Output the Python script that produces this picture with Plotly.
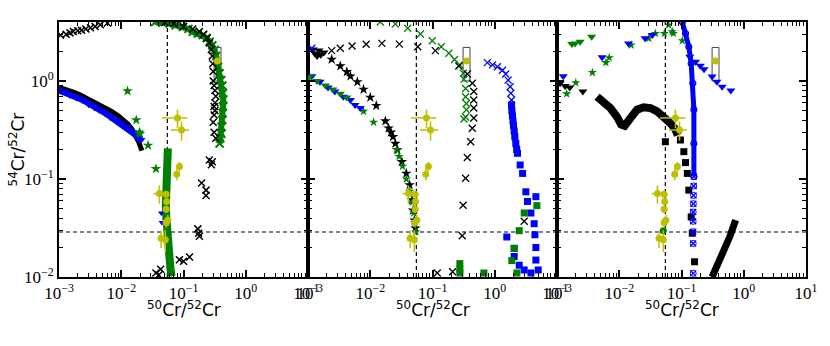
import plotly.graph_objects as go

# ---- axis ticks ----
x_ticks = [1e-3, 1e-2, 1e-1, 1, 10]
x_ticktext = ["10<sup>−3</sup>", "10<sup>−2</sup>", "10<sup>−1</sup>", "10<sup>0</sup>", "10<sup>1</sup>"]
y_ticks = [1e-2, 1e-1, 1]
y_ticktext = ["10<sup>−2</sup>", "10<sup>−1</sup>", "10<sup>0</sup>"]

# ---- reference lines / box (same in every panel) ----
ref_x = 0.055
ref_y = 0.0288
box_x = [0.31, 0.40]
box_y = [1.0, 2.2]

# ---- measured grains (yellow, same in every panel) ----
obs_x = [0.08, 0.093, 0.086, 0.078, 0.041, 0.0526, 0.0536, 0.0526, 0.056, 0.0526, 0.0436, 0.051, 0.35]
obs_y = [0.42, 0.316, 0.134, 0.112, 0.071, 0.07, 0.059, 0.049, 0.038, 0.036, 0.0248, 0.024, 1.6]
obs_xerr = [0.035, 0.03, 0.006, 0.008, 0.008, 0.003, 0.003, 0.003, 0.004, 0.004, 0.005, 0.003, 0]
obs_yerr = [0.09, 0.07, 0.015, 0.015, 0.015, 0.005, 0.005, 0.004, 0.005, 0.004, 0.005, 0.006, 0]

# ---- panel 1 ----
p1_kx_x = [0.00106, 0.0013, 0.0015, 0.0017, 0.002, 0.0023, 0.0027, 0.0032, 0.0038, 0.0046, 0.006,
           0.05, 0.07, 0.1, 0.14, 0.18, 0.21, 0.24, 0.26, 0.28, 0.29, 0.295, 0.3, 0.3, 0.31, 0.32,
           0.33, 0.32, 0.31, 0.32, 0.31, 0.3, 0.31, 0.33, 0.29, 0.26, 0.28, 0.195, 0.23, 0.23, 0.17,
           0.18, 0.175, 0.086, 0.1, 0.125, 0.036, 0.043, 0.04]
p1_kx_y = [2.94, 3.0, 3.1, 3.2, 3.25, 3.3, 3.4, 3.5, 3.6, 3.75, 3.9,
           3.95, 3.85, 3.6, 3.4, 3.2, 3.0, 2.75, 2.45, 2.1, 1.8, 1.5, 1.25, 1.0, 0.9, 0.8,
           0.7, 0.6, 0.55, 0.5, 0.45, 0.38, 0.3, 0.26, 0.15, 0.156, 0.14, 0.091, 0.077, 0.068, 0.031,
           0.026, 0.028, 0.015, 0.0145, 0.016, 0.011, 0.012, 0.0105]
p1_gx_x = [0.035, 0.046, 0.06, 0.075, 0.0975, 0.12, 0.141, 0.17, 0.205, 0.235, 0.263, 0.29, 0.316,
           0.335, 0.358, 0.38, 0.405, 0.42, 0.43, 0.435, 0.43, 0.425, 0.42, 0.41, 0.405, 0.39, 0.38]
p1_gx_y = [4.0, 3.95, 3.85, 3.7, 3.58, 3.4, 3.18, 3.05, 2.94, 2.75, 2.52, 2.3, 2.07,
           1.8, 1.4, 1.2, 1.02, 0.9, 0.75, 0.65, 0.55, 0.47, 0.40, 0.34, 0.29, 0.26, 0.23]
p1_gband_x = [0.056, 0.055, 0.053, 0.052, 0.052, 0.052, 0.053, 0.054, 0.056, 0.058, 0.06, 0.062, 0.064]
p1_gband_y = [0.205, 0.16, 0.12, 0.09, 0.07, 0.052, 0.04, 0.03, 0.024, 0.019, 0.015, 0.012, 0.0102]
p1_gs_x = [0.0126, 0.0174, 0.0196, 0.02, 0.027, 0.036]
p1_gs_y = [0.79, 0.4, 0.3, 0.29, 0.22, 0.127]
p1_bt_x = [0.001, 0.00113, 0.0015, 0.0019, 0.00238, 0.003, 0.0037, 0.0044, 0.0055, 0.0067, 0.0082,
           0.01, 0.012, 0.0135, 0.0152, 0.017, 0.019, 0.0207]
p1_bt_y = [0.8, 0.78, 0.72, 0.68, 0.64, 0.58, 0.54, 0.51, 0.47, 0.43, 0.40,
           0.37, 0.34, 0.32, 0.30, 0.28, 0.26, 0.25]
p1_bsmall_x = [0.044, 0.045]
p1_bsmall_y = [0.045, 0.036]
p1_kt_x = [0.001, 0.0013, 0.0017, 0.0022, 0.003, 0.004, 0.005, 0.007, 0.009, 0.011, 0.013, 0.015,
           0.017, 0.019, 0.0205, 0.021, 0.0215]
p1_kt_y = [0.86, 0.82, 0.77, 0.72, 0.65, 0.6, 0.55, 0.49, 0.44, 0.4, 0.36, 0.32,
           0.28, 0.24, 0.21, 0.2, 0.195]

# ---- panel 2 ----
p2_kx_x = [0.0024, 0.0033, 0.0051, 0.0086, 0.0154, 0.0293, 0.058, 0.111, 0.265, 0.363, 0.436, 0.46,
           0.46, 0.46, 0.46, 0.436, 0.41, 0.363, 0.34, 0.31, 0.30, 0.21, 0.119, 2.97]
p2_kx_y = [2.04, 2.16, 2.28, 2.37, 2.42, 2.38, 2.24, 2.04, 1.42, 1.18, 0.95, 0.78,
           0.64, 0.53, 0.42, 0.33, 0.24, 0.166, 0.102, 0.054, 0.0264, 0.0113, 0.011, 0.037]
p2_kcl_x = [0.0012, 0.0013, 0.0014, 0.0016, 0.0018, 0.0015]
p2_kcl_y = [2.1, 1.9, 1.8, 1.85, 1.95, 2.05]
p2_ks_x = [0.0024, 0.0033, 0.0042, 0.0048, 0.0062, 0.0078, 0.01, 0.0125, 0.0175, 0.0197, 0.0215,
           0.0232, 0.0253, 0.0273, 0.0322, 0.0379, 0.0428, 0.0468, 0.0487, 0.0513, 0.053]
p2_ks_y = [1.66, 1.42, 1.24, 1.12, 0.98, 0.82, 0.68, 0.56, 0.39, 0.33, 0.30,
           0.27, 0.23, 0.198, 0.15, 0.114, 0.087, 0.061, 0.048, 0.038, 0.0315]
p2_gs_x = [0.0078, 0.0113, 0.0265, 0.029, 0.033, 0.038, 0.043, 0.047, 0.05, 0.052, 0.054]
p2_gs_y = [0.49, 0.38, 0.2, 0.17, 0.135, 0.1, 0.075, 0.058, 0.045, 0.036, 0.029]
p2_gx_x = [0.0145, 0.0253, 0.040, 0.064, 0.099, 0.138, 0.183, 0.226, 0.275, 0.313, 0.32, 0.34,
           0.34, 0.35, 0.35, 0.34, 0.32]
p2_gx_y = [4.0, 3.82, 3.45, 3.02, 2.58, 2.24, 1.92, 1.66, 1.46, 1.2, 1.04, 0.84,
           0.69, 0.59, 0.51, 0.43, 0.41]
p2_bx_x = [0.00115, 0.76, 0.92, 1.10, 1.33, 1.50, 1.64, 1.77, 1.81, 1.86]
p2_bx_y = [2.16, 1.54, 1.46, 1.40, 1.29, 1.18, 1.02, 0.875, 0.75, 0.64]
p2_bsq_x = [1.86, 1.88, 1.92, 1.96, 2.0, 2.05, 2.1, 2.18, 2.25, 2.32, 2.56, 2.80, 3.16, 3.36, 4.58,
            3.81, 4.3, 1.56, 4.42, 2.05, 4.58, 2.05, 4.58, 2.47, 2.97, 3.81, 4.99]
p2_bsq_y = [0.57, 0.5, 0.44, 0.39, 0.35, 0.31, 0.27, 0.23, 0.2, 0.183, 0.139, 0.114, 0.074, 0.059, 0.066,
            0.045, 0.035, 0.0256, 0.027, 0.0196, 0.020, 0.0162, 0.0149, 0.0132, 0.0118, 0.011, 0.0118]
p2_gsq_x = [4.75, 2.97, 2.47, 2.05, 1.88, 2.27, 0.275, 0.275, 0.275, 0.67]
p2_gsq_y = [0.0535, 0.045, 0.0297, 0.0196, 0.0147, 0.011, 0.0137, 0.012, 0.011, 0.011]
p2_bt_x = [0.00115, 0.00156, 0.0021, 0.0027, 0.0037, 0.0048, 0.0057, 0.0069]
p2_bt_y = [1.12, 0.98, 0.86, 0.78, 0.69, 0.64, 0.57, 0.53]
p2_gt_x = [0.00105, 0.0014, 0.0019, 0.0025, 0.0033, 0.0042]
p2_gt_y = [1.1, 1.0, 0.9, 0.82, 0.74, 0.68]

# ---- panel 3 ----
p3_gt_x = [0.00173, 0.00195, 0.00235, 0.0036]
p3_gt_y = [2.39, 2.42, 2.52, 2.83]
p3_gs_x = [0.00143, 0.002, 0.0037, 0.0061, 0.0069, 0.0155, 0.0297, 0.038, 0.053, 0.062, 0.071, 0.074, 0.103]
p3_gs_y = [0.74, 0.96, 1.22, 1.54, 1.73, 2.33, 2.73, 3.06, 3.06, 3.73, 3.18, 3.06, 2.58]
p3_bt_x = [0.00126, 0.0053, 0.0141, 0.026, 0.034, 0.136, 0.168, 0.20, 0.23, 0.31, 0.37, 0.45, 0.62]
p3_bt_y = [1.12, 1.75, 2.42, 2.73, 2.94, 1.77, 1.57, 1.43, 1.32, 1.11, 0.98, 0.875, 0.80]
p3_kt_x = [0.00112, 0.00135, 0.0016, 0.0026]
p3_kt_y = [0.95, 0.89, 0.86, 0.78]
p3_kcurve_x = [0.0044, 0.0056, 0.0072, 0.0092, 0.0107, 0.0122, 0.0142, 0.016, 0.0193, 0.0247, 0.0316,
               0.0405, 0.052, 0.0665, 0.080, 0.087]
p3_kcurve_y = [0.69, 0.62, 0.53, 0.43, 0.36, 0.35, 0.39, 0.45, 0.51, 0.54, 0.53,
               0.49, 0.43, 0.37, 0.32, 0.28]
p3_ksq_x = [0.055, 0.096, 0.109, 0.116, 0.124, 0.131, 0.143, 0.149, 0.162]
p3_ksq_y = [0.24, 0.25, 0.19, 0.147, 0.114, 0.077, 0.041, 0.028, 0.0143]
p3_kline_x = [0.31, 0.35, 0.4, 0.45, 0.5, 0.55, 0.6, 0.66, 0.74]
p3_kline_y = [0.01, 0.0118, 0.0142, 0.0165, 0.0195, 0.0225, 0.026, 0.031, 0.038]
p3_bcurve_x = [0.103, 0.116, 0.131, 0.143, 0.152, 0.158, 0.158, 0.158]
p3_bcurve_y = [4.0, 3.06, 2.24, 1.51, 0.95, 0.51, 0.23, 0.106]
p3_bx_x = [0.158, 0.157, 0.156, 0.155, 0.154, 0.154, 0.154, 0.154, 0.154]
p3_bx_y = [0.106, 0.085, 0.068, 0.056, 0.046, 0.037, 0.029, 0.022, 0.0109]
p3_gc_x = [0.051]
p3_gc_y = [0.0297]

YELLOW = "#bfbf00"
GREEN = "#008000"
BLUE = "#0000ff"
BLACK = "#000000"

fig = go.Figure()


def ax(panel):
    s = "" if panel == 1 else str(panel)
    return "x" + s, "y" + s


def pts(x, y, panel, symbol, color, size, width=1.3):
    xa, ya = ax(panel)
    if symbol in ("x-thin", "circle-open"):
        marker = dict(symbol=symbol, size=size, color=color, line=dict(width=width, color=color))
    else:
        marker = dict(symbol=symbol, size=size, color=color, line=dict(width=0))
    fig.add_trace(go.Scatter(x=x, y=y, mode="markers", marker=marker,
                             xaxis=xa, yaxis=ya, showlegend=False))


def band(x, y, panel, color, width):
    # dense model tracks drawn as thick strokes
    xa, ya = ax(panel)
    fig.add_trace(go.Scatter(x=x, y=y, mode="lines", line=dict(color=color, width=width),
                             xaxis=xa, yaxis=ya, showlegend=False))


def common(panel):
    xa, ya = ax(panel)
    line = dict(color="black", width=1.2, dash="4px,3px")
    fig.add_trace(go.Scatter(x=[ref_x, ref_x], y=[0.01, 4.0], mode="lines", line=line,
                             xaxis=xa, yaxis=ya, showlegend=False))
    fig.add_trace(go.Scatter(x=[1e-3, 10], y=[ref_y, ref_y], mode="lines", line=line,
                             xaxis=xa, yaxis=ya, showlegend=False))
    fig.add_trace(go.Scatter(x=[box_x[0], box_x[1], box_x[1], box_x[0], box_x[0]],
                             y=[box_y[0], box_y[0], box_y[1], box_y[1], box_y[0]], mode="lines",
                             line=dict(color="#444444", width=1), xaxis=xa, yaxis=ya, showlegend=False))


def obs(panel):
    xa, ya = ax(panel)
    fig.add_trace(go.Scatter(
        x=obs_x, y=obs_y, mode="markers",
        marker=dict(symbol="circle", size=7, color=YELLOW),
        error_x=dict(type="data", array=obs_xerr, color=YELLOW, thickness=1.5, width=0),
        error_y=dict(type="data", array=obs_yerr, color=YELLOW, thickness=1.5, width=0),
        xaxis=xa, yaxis=ya, showlegend=False))


# panel 1
common(1)
band(p1_gx_x, p1_gx_y, 1, GREEN, 6)
pts(p1_gx_x, p1_gx_y, 1, "x-thin", GREEN, 8, 2)
band(p1_gband_x, p1_gband_y, 1, GREEN, 8)
band(p1_kt_x, p1_kt_y, 1, BLACK, 5)
band(p1_bt_x, p1_bt_y, 1, BLUE, 6)
pts(p1_bt_x, p1_bt_y, 1, "triangle-down", BLUE, 8)
pts(p1_bsmall_x, p1_bsmall_y, 1, "triangle-down", BLUE, 6)
pts(p1_gs_x, p1_gs_y, 1, "star", GREEN, 8)
pts(p1_kx_x, p1_kx_y, 1, "x-thin", BLACK, 7, 1.5)
obs(1)

# panel 2
common(2)
pts(p2_ks_x, p2_ks_y, 2, "star", BLACK, 8)
pts(p2_gs_x, p2_gs_y, 2, "star", GREEN, 7)
pts(p2_gx_x, p2_gx_y, 2, "x-thin", GREEN, 7, 1.3)
pts(p2_kx_x, p2_kx_y, 2, "x-thin", BLACK, 7, 1.3)
pts(p2_kcl_x, p2_kcl_y, 2, "triangle-down", BLACK, 8)
pts(p2_bx_x, p2_bx_y, 2, "x-thin", BLUE, 7, 1.3)
band(p2_bsq_x[:10], p2_bsq_y[:10], 2, BLUE, 6)
pts(p2_bsq_x, p2_bsq_y, 2, "square", BLUE, 7)
pts(p2_gsq_x, p2_gsq_y, 2, "square", GREEN, 7)
pts(p2_bt_x, p2_bt_y, 2, "triangle-down", BLUE, 8)
pts(p2_gt_x, p2_gt_y, 2, "triangle-down", GREEN, 8)
obs(2)

# panel 3
common(3)
pts(p3_gt_x, p3_gt_y, 3, "triangle-down", GREEN, 8)
pts(p3_gs_x, p3_gs_y, 3, "star", GREEN, 7)
pts(p3_bt_x, p3_bt_y, 3, "triangle-down", BLUE, 8)
pts(p3_kt_x, p3_kt_y, 3, "triangle-down", BLACK, 8)
band(p3_kcurve_x, p3_kcurve_y, 3, BLACK, 8)
pts(p3_ksq_x, p3_ksq_y, 3, "square", BLACK, 7)
band(p3_kline_x, p3_kline_y, 3, BLACK, 7)
band(p3_bcurve_x, p3_bcurve_y, 3, BLUE, 5)
pts(p3_bcurve_x, p3_bcurve_y, 3, "circle-open", BLUE, 6, 1.2)
pts(p3_bx_x, p3_bx_y, 3, "x-thin", BLUE, 6, 1.3)
pts(p3_bx_x, p3_bx_y, 3, "circle-open", BLUE, 6, 1)
pts(p3_gc_x, p3_gc_y, 3, "circle", GREEN, 7)
obs(3)

minor_x = [m * 10 ** e for e in range(-3, 1) for m in range(2, 10)]
minor_y = [m * 10 ** e for e in range(-2, 1) for m in range(2, 10)]
tick_font = dict(family="Liberation Serif", size=17, color="black")

domains = [[0.0711, 0.3711], [0.3711, 0.6711], [0.6711, 0.9711]]
layout = dict(width=830, height=346, margin=dict(l=0, r=0, t=0, b=0),
              plot_bgcolor="white", paper_bgcolor="white")
for i, dom in enumerate(domains):
    sfx = "" if i == 0 else str(i + 1)
    layout["xaxis" + sfx] = dict(
        type="log", range=[-3, 1], domain=dom, anchor="y" + sfx, automargin=False,
        showline=True, linecolor="black", linewidth=2, mirror="ticks",
        ticks="inside", ticklen=7, tickwidth=2, tickcolor="black",
        tickmode="array", tickvals=x_ticks, ticktext=x_ticktext, tickfont=tick_font,
        showgrid=False, zeroline=False,
        minor=dict(tickmode="array", tickvals=minor_x, ticks="inside", ticklen=4,
                   tickwidth=1, tickcolor="black", showgrid=False))
    layout["yaxis" + sfx] = dict(
        type="log", range=[-2, 0.602], domain=[0.1994, 0.9364], anchor="x" + sfx, automargin=False,
        showline=True, linecolor="black", linewidth=2, mirror="ticks",
        ticks="inside", ticklen=7, tickwidth=2, tickcolor="black",
        tickmode="array", tickvals=y_ticks, ticktext=y_ticktext, tickfont=tick_font,
        showticklabels=(i == 0), showgrid=False, zeroline=False,
        minor=dict(tickmode="array", tickvals=minor_y, ticks="inside", ticklen=4,
                   tickwidth=1, tickcolor="black", showgrid=False))
fig.update_layout(**layout)

title_font = dict(family="DejaVu Sans", size=17, color="black")
for dom in domains:
    fig.add_annotation(text="<sup>50</sup>Cr/<sup>52</sup>Cr", xref="paper", yref="paper",
                       x=(dom[0] + dom[1]) / 2, y=0.107, xanchor="center", yanchor="middle",
                       showarrow=False, font=title_font)
fig.add_annotation(text="<sup>54</sup>Cr/<sup>52</sup>Cr", xref="paper", yref="paper",
                   x=0.02, y=0.567, xanchor="center", yanchor="middle", textangle=-90,
                   showarrow=False, font=title_font)

fig.write_html("out.html", config={"displayModeBar": False},
               post_script="document.body.style.margin = '0';")
